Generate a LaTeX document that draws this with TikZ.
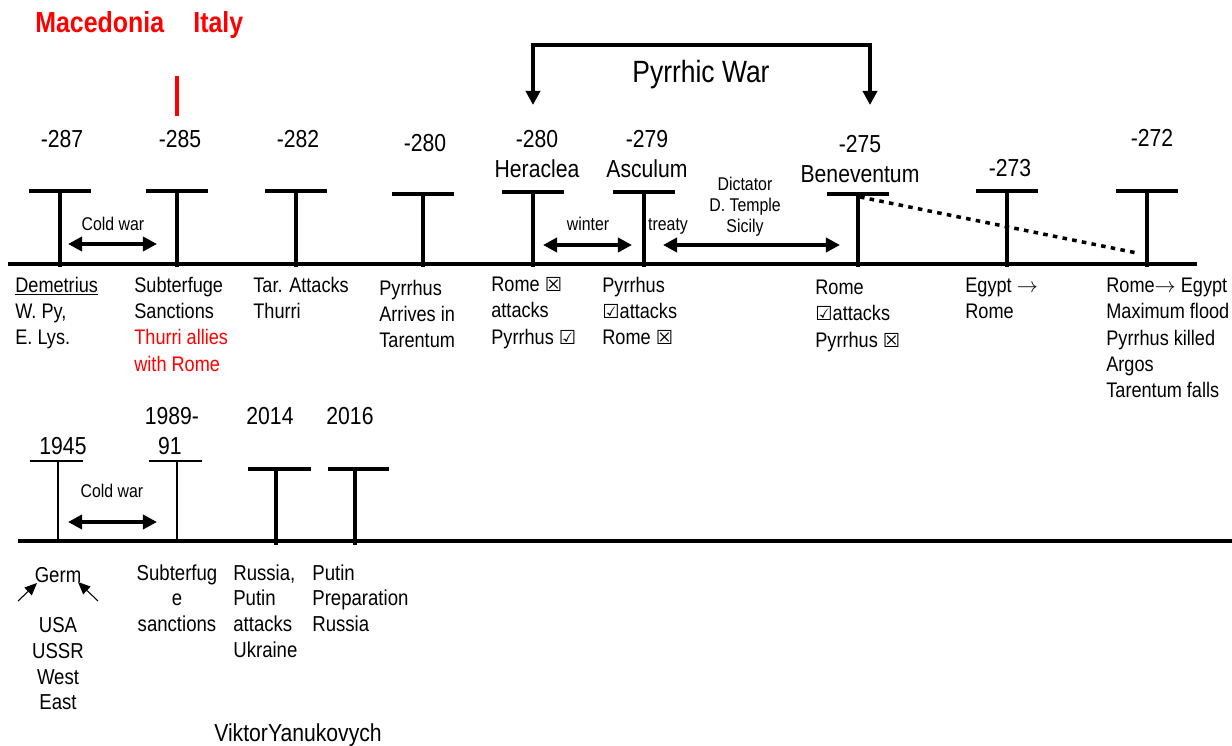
\documentclass[tikz,border=0pt]{standalone}
\usepackage{fontspec}
\setmainfont{Liberation Sans}[FakeStretch=0.86]
\newfontfamily\symb{DejaVu Sans}
\usetikzlibrary{arrows.meta}
\newcommand\nobox{{\symb\fontsize{11}{12}\selectfont ☒}}
\newcommand\yesbox{{\symb\fontsize{11}{12}\selectfont ☑}}

\begin{document}
\begin{tikzpicture}[x=0.02cm,y=-0.02cm,
	axis line/.style={line width=2.4pt},
	tee/.style={line width=2.1pt},
	thin tee/.style={line width=0.6pt},
	year/.style={anchor=base,inner sep=0pt,align=center,font=\fontsize{14}{17}\selectfont},
	event/.style={anchor=north west,inner sep=0pt,align=left,font=\fontsize{12}{15}\selectfont,execute at begin node=\strut},
	low event/.style={event,font=\fontsize{12.3}{14.7}\selectfont},
	small/.style={anchor=north,inner sep=0pt,align=center,font=\fontsize{10.5}{12}\selectfont,execute at begin node=\strut},
	span/.style={line width=2pt,{Triangle[length=8pt,width=8pt]}-{Triangle[length=8pt,width=8pt]}}]
		\useasboundingbox (0,0) rectangle (1232,746);
		\node[anchor=base west,inner sep=0pt,text=red,font=\fontsize{16.5}{20}\selectfont\bfseries] (mac) at (35,33) {Macedonia};%heading
		\node[anchor=base west,inner sep=0pt,text=red,font=\fontsize{16.5}{20}\selectfont\bfseries] (ita) at (193,33) {Italy};
		\draw[red,line width=2.3pt] (177,76) -- (177,116); %red mark
		\draw[axis line] (8,264) -- (1197,264); %top time line
		\foreach \x/\y in {60/191,177/191,296/191,423/194,533/192,644/192,858/194,1007/191,1147/191}{
			\draw[tee] (\x-31,\y) -- (\x+31,\y);
			\draw[tee] (\x,\y) -- (\x,267);}
		\node[year] (y287) at (62,148) {-287};
		\node[year] (y285) at (180,148) {-285};
		\node[year] (y282) at (298,148) {-282};
		\node[year] (y280a) at (425,152) {-280};
		\node[year] (y280b) at (537,148) {-280};
		\node[year] (her) at (537,178) {Heraclea};
		\node[year] (y279) at (647,148) {-279};
		\node[year] (asc) at (647,178) {Asculum};
		\node[year] (y275) at (860,153) {-275};
		\node[year] (ben) at (860,183) {Beneventum};
		\node[year] (y273) at (1010,177) {-273};
		\node[year] (y272) at (1152,147) {-272};
		% pyrrhic war bracket
		\coordinate (pl) at (533,105);
		\coordinate (pr) at (870,105);
		\draw[line width=2.3pt,{Triangle[length=8pt,width=8pt]}-{Triangle[length=8pt,width=8pt]}] (pl) -- ++(0,-60) -| (pr);
		\node[anchor=base,inner sep=0pt,font=\fontsize{17.5}{20}\selectfont] (pw) at (701,83) {Pyrrhic War};
		% spans
		\coordinate (cw1) at (68,244); \coordinate (cw2) at (157,244);
		\draw[span] (cw1) -- (cw2);
		\node[small] (cwt) at (113,215.5) {Cold war};
		\coordinate (w1) at (543,245); \coordinate (w2) at (632,245);
		\draw[span] (w1) -- (w2);
		\node[small] (win) at (588,215.5) {winter};
		\node[small] (tre) at (668,215.5) {treaty};
		\coordinate (t1) at (663,245); \coordinate (t2) at (840,245);
		\draw[span] (t1) -- (t2);
		\node[small] (dic) at (745,177) {Dictator\\D. Temple\\Sicily};
		\coordinate (d1) at (860,197); \coordinate (d2) at (1137,253);
		\draw[line width=2pt,dash pattern=on 2.6pt off 3pt] (d1) -- (d2); %dotted line
		% events
		\node[event] (e1) at (15,276.5) {\underline{Demetrius}\\W. Py,\\E. Lys.};
		\node[event] (e2) at (134,276.5) {Subterfuge\\Sanctions\\\textcolor{red}{Thurri allies}\\\textcolor{red}{with Rome}};
		\node[event] (e3) at (253,276.5) {Tar. Attacks\\Thurri};
		\node[event] (e4) at (379,279.5) {Pyrrhus\\Arrives in\\Tarentum};
		\node[event] (e5) at (491,276.5) {Rome \nobox\\attacks\\Pyrrhus \yesbox};
		\node[event] (e6) at (602,276.5) {Pyrrhus\\\yesbox attacks\\Rome \nobox};
		\node[event] (e7) at (815,279.5) {Rome\\\yesbox attacks\\Pyrrhus \nobox};
		\node[event] (e8) at (965,277.5) {Egypt $\rightarrow$\\Rome};
		\node[event] (e9) at (1106,277.5) {Rome$\rightarrow$ Egypt\\Maximum flood\\Pyrrhus killed\\Argos\\Tarentum falls};
		% modern time line
		\draw[axis line] (18,541) -- (1232,541);
		\draw[thin tee] (30,461) -- (83,461); \draw[thin tee] (58,461) -- (58,541);
		\draw[thin tee] (149,461) -- (202,461); \draw[thin tee] (177,461) -- (177,541);
		\draw[tee] (248,469) -- (311,469); \draw[tee] (276,469) -- (276,545);
		\draw[tee] (328,469) -- (389,469); \draw[tee] (355,469) -- (355,545);
		\node[year] (m1) at (63,455) {1945};
		\node[year] (m2) at (172,425) {1989-};
		\node[year] (m3) at (170,455) {91};
		\node[year] (m4) at (270,425) {2014};
		\node[year] (m5) at (350,425) {2016};
		\node[small] (cwb) at (112,482.5) {Cold war};
		\coordinate (cb1) at (68,522); \coordinate (cb2) at (157,522);
		\draw[span] (cb1) -- (cb2);
		\node[low event,anchor=north] (germ) at (58,564) {Germ};
		\coordinate (g1) at (18,601); \coordinate (g2) at (37,583);
		\coordinate (g3) at (98,601); \coordinate (g4) at (78,582);
		\draw[thin tee,-{Triangle[length=7pt,width=6pt]}] (g1) -- (g2);
		\draw[thin tee,-{Triangle[length=7pt,width=6pt]}] (g3) -- (g4);
		\node[low event,anchor=north,align=center] (bl) at (58,617) {USA\\USSR\\West\\East};
		\node[low event,anchor=north,align=center] (f1) at (177,564) {Subterfug\\e\\sanctions};
		\node[low event] (f2) at (233,564) {Russia,\\Putin\\attacks\\Ukraine};
		\node[low event] (f3) at (312,564) {Putin\\Preparation\\Russia};
		\node[anchor=base,inner sep=0pt,font=\fontsize{14}{16}\selectfont] (vy) at (298,742) {ViktorYanukovych};
\end{tikzpicture}
\end{document}
